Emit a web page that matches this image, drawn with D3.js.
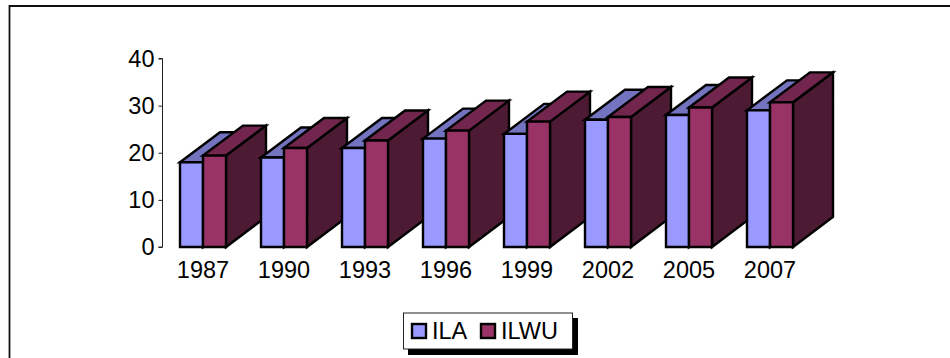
<!DOCTYPE html>
<html>
<head>
<meta charset="utf-8">
<script src="https://cdn.jsdelivr.net/npm/d3@7"></script>
<style>
html,body{margin:0;padding:0;background:#fff}
svg{display:block}
text{font-family:"Liberation Sans",Arial,sans-serif;fill:#000}
</style>
</head>
<body>
<svg id="chart" width="950" height="358"></svg>
<script>
// Union membership by survey year
const years = ["1987","1990","1993","1996","1999","2002","2005","2007"];
const ila   = [18,19,21,23,24,27,28,29];
const ilwu  = [19.4,21,22.6,24.7,26.6,27.6,29.6,30.7];
const yTicks = [0,10,20,30,40];
const seriesNames = ["ILA","ILWU"];
const frontColors = ["#9999ff","#993366"];
const topColors   = ["#7373bf","#73264d"];
const sideColors  = ["#4d4d80","#4d1a33"];

const svg = d3.select("#chart");
const seriesValues = [ila, ilwu];

// Outer chart frame: top and left edges run off the page
svg.append("path")
  .attr("d", "M9.5,358V6H950")
  .attr("fill", "none").attr("stroke", "#111").attr("stroke-width", 1.8);

const y = d3.scaleLinear().domain([0,40]).range([247,58.5]);
const x = d3.scaleBand().domain(years).range([180,828]).paddingInner(0).paddingOuter(0);
const xInner = d3.scalePoint().domain(seriesNames).range([0,23]);
const barW = 23, depthX = 40, depthY = 30;

// Value axis
const yAxis = svg.append("g")
  .attr("transform", "translate(162.5,0)")
  .call(d3.axisLeft(y).tickValues(yTicks).tickSize(4).tickPadding(4).tickFormat(d3.format("d")));
yAxis.selectAll("path,line").attr("stroke", "#222").attr("stroke-width", 1);
yAxis.select("path").attr("d", `M-4,${y(40)}H0V${y(0)}H-4`);
yAxis.selectAll("text").attr("font-size", 23.5).attr("font-family", '"Liberation Sans",Arial,sans-serif').attr("fill","#000");

// Extruded bars, each group painted left to right so nearer faces overlap
const group = svg.selectAll("g.year").data(years).join("g").attr("class","year");
group.each(function(yr, i) {
  const g = d3.select(this);
  seriesNames.forEach((name, s) => {
    const x0 = x(yr) + xInner(name), x1 = x0 + barW;
    const yt = y(seriesValues[s][i]), yb = y(0);
    const line = d3.line();
    const face = (pts, fill) => g.append("path")
      .attr("d", line(pts) + "Z")
      .attr("fill", fill).attr("stroke", "#000")
      .attr("stroke-width", 2.4).attr("stroke-linejoin", "miter");
    face([[x1,yt],[x1+depthX,yt-depthY],[x1+depthX,yb-depthY],[x1,yb]], sideColors[s]);
    face([[x0,yt],[x0+depthX,yt-depthY],[x1+depthX,yt-depthY],[x1,yt]], topColors[s]);
    face([[x0,yt],[x1,yt],[x1,yb],[x0,yb]], frontColors[s]);
  });
});

// Category labels
svg.selectAll("text.cat").data(years).join("text").attr("class","cat")
  .attr("x", d => x(d) + 23).attr("y", 278)
  .attr("text-anchor","middle").attr("font-size", 23.5)
  .text(d => d);

// Legend with drop shadow
svg.append("rect").attr("x",408).attr("y",318).attr("width",170).attr("height",37).attr("fill","#000");
svg.append("rect").attr("x",403.5).attr("y",313).attr("width",169).attr("height",36)
  .attr("fill","#fff").attr("stroke","#222");
const legendX = d3.scaleOrdinal().domain(seriesNames).range([412,481]);
seriesNames.forEach((name,s) => {
  svg.append("rect").attr("x",legendX(name)).attr("y",324).attr("width",14).attr("height",14)
    .attr("fill",frontColors[s]).attr("stroke","#000").attr("stroke-width",2.4);
  svg.append("text").attr("x",legendX(name)+20).attr("y",339).attr("font-size",23.5).text(name);
});
</script>
</body>
</html>
